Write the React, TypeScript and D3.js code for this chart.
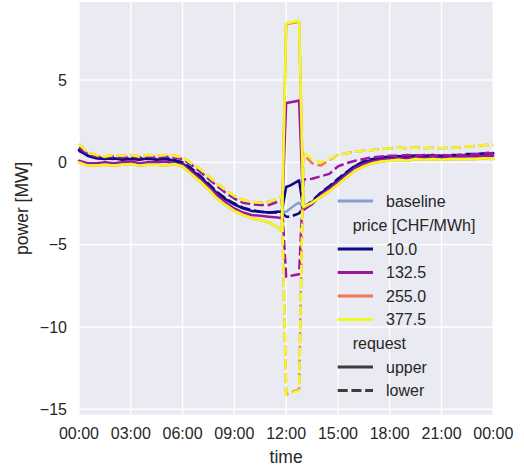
import React from "react";
import * as d3 from "d3";

const TIMES = [0, 0.5, 1, 1.5, 2, 2.5, 3, 3.5, 4, 4.5, 5, 5.5, 6, 6.5, 7, 7.5, 8, 8.5, 9, 9.5, 10, 10.5, 11, 11.5, 11.75, 12, 12.25, 12.5, 12.75, 13, 13.5, 14, 14.5, 15, 15.5, 16, 16.5, 17, 17.5, 18, 18.5, 19, 19.5, 20, 20.5, 21, 21.5, 22, 22.5, 23, 23.5, 24];

const BASELINE = [0.7, 0.4, 0.25, 0.2, 0.25, 0.2, 0.2, 0.2, 0.2, 0.2, 0.2, 0.15, -0.05, -0.4, -0.85, -1.35, -1.85, -2.25, -2.55, -2.8, -2.95, -3.0, -3.05, -3.0, -3.0, -3.0, -2.8, -2.6, -2.45, -2.75, -2.4, -1.9, -1.5, -1.05, -0.6, -0.2, 0.0, 0.15, 0.25, 0.3, 0.35, 0.35, 0.4, 0.35, 0.4, 0.4, 0.4, 0.4, 0.45, 0.45, 0.5, 0.55];

const P10_UPPER = [0.75, 0.4, 0.25, 0.2, 0.25, 0.15, 0.2, 0.15, 0.25, 0.15, 0.2, 0.1, -0.1, -0.45, -0.9, -1.35, -1.9, -2.25, -2.55, -2.8, -2.95, -3.0, -3.05, -3.0, -3.0, -1.5, -1.4, -1.25, -1.1, -2.85, -2.45, -1.9, -1.5, -1.1, -0.65, -0.25, 0.0, 0.15, 0.25, 0.3, 0.35, 0.3, 0.4, 0.35, 0.4, 0.35, 0.4, 0.4, 0.45, 0.45, 0.5, 0.55];
const P10_LOWER = [0.7, 0.45, 0.3, 0.25, 0.2, 0.25, 0.2, 0.25, 0.2, 0.2, 0.25, 0.15, 0.0, -0.35, -0.8, -1.3, -1.8, -2.2, -2.5, -2.75, -2.9, -3.0, -3.05, -3.05, -3.05, -3.3, -3.3, -3.2, -3.1, -2.75, -2.35, -1.85, -1.45, -1.0, -0.6, -0.2, 0.05, 0.2, 0.3, 0.35, 0.35, 0.4, 0.4, 0.4, 0.45, 0.4, 0.45, 0.45, 0.5, 0.5, 0.55, 0.6];

const P132_UPPER = [0.1, -0.05, -0.05, 0.0, -0.05, 0.0, 0.05, -0.05, 0.0, 0.0, 0.05, -0.05, -0.15, -0.55, -1.0, -1.5, -2.0, -2.45, -2.8, -3.05, -3.2, -3.25, -3.3, -3.35, -3.4, 3.6, 3.65, 3.7, 3.75, -2.9, -2.55, -2.0, -1.6, -1.2, -0.75, -0.35, -0.1, 0.05, 0.15, 0.2, 0.25, 0.2, 0.3, 0.25, 0.3, 0.25, 0.3, 0.3, 0.35, 0.35, 0.4, 0.4];
const P132_LOWER = [0.9, 0.5, 0.35, 0.3, 0.35, 0.3, 0.35, 0.3, 0.35, 0.3, 0.35, 0.3, 0.2, -0.15, -0.55, -1.0, -1.45, -1.85, -2.2, -2.45, -2.55, -2.6, -2.6, -2.4, -2.3, -6.95, -6.9, -6.85, -6.8, -1.05, -1.0, -0.85, -0.7, -0.25, -0.05, 0.1, 0.2, 0.3, 0.35, 0.4, 0.4, 0.45, 0.4, 0.45, 0.4, 0.45, 0.4, 0.45, 0.45, 0.5, 0.55, 0.55];

const P255_UPPER = [0.0, -0.2, -0.2, -0.15, -0.2, -0.15, -0.1, -0.2, -0.15, -0.15, -0.2, -0.1, -0.25, -0.7, -1.15, -1.65, -2.2, -2.6, -2.95, -3.2, -3.4, -3.5, -3.65, -3.95, -4.2, 8.4, 8.45, 8.5, 8.55, -2.75, -2.45, -2.1, -1.75, -1.35, -0.9, -0.5, -0.25, -0.05, 0.05, 0.1, 0.15, 0.1, 0.2, 0.15, 0.2, 0.15, 0.2, 0.2, 0.2, 0.2, 0.25, 0.2];
const P255_LOWER = [1.1, 0.6, 0.45, 0.35, 0.45, 0.4, 0.45, 0.35, 0.45, 0.4, 0.45, 0.4, 0.3, -0.05, -0.4, -0.85, -1.3, -1.7, -2.05, -2.3, -2.4, -2.45, -2.4, -2.2, -2.1, -14.1, -14.0, -13.9, -13.8, 0.5, -0.05, -0.2, 0.15, 0.45, 0.55, 0.65, 0.7, 0.75, 0.8, 0.85, 0.9, 0.85, 0.9, 0.85, 0.9, 0.85, 0.9, 0.9, 0.95, 1.0, 1.05, 1.05];

const P377_UPPER = [0.0, -0.2, -0.2, -0.15, -0.2, -0.15, -0.1, -0.2, -0.15, -0.15, -0.2, -0.1, -0.25, -0.7, -1.15, -1.65, -2.2, -2.6, -2.95, -3.2, -3.4, -3.5, -3.65, -3.95, -4.2, 8.45, 8.5, 8.55, 8.6, -2.7, -2.45, -2.1, -1.75, -1.35, -0.9, -0.5, -0.25, -0.05, 0.05, 0.1, 0.15, 0.1, 0.2, 0.15, 0.2, 0.15, 0.2, 0.2, 0.2, 0.2, 0.25, 0.2];
const P377_LOWER = [1.1, 0.6, 0.45, 0.35, 0.45, 0.4, 0.45, 0.35, 0.45, 0.4, 0.45, 0.4, 0.3, -0.05, -0.4, -0.85, -1.3, -1.7, -2.05, -2.3, -2.4, -2.45, -2.4, -2.2, -2.1, -14.15, -14.05, -13.95, -13.85, 0.6, 0.2, 0.0, 0.2, 0.45, 0.55, 0.65, 0.7, 0.75, 0.8, 0.85, 0.9, 0.85, 0.9, 0.85, 0.9, 0.85, 0.9, 0.9, 0.95, 1.0, 1.05, 1.05];

const PRICE_LABELS = ["10.0", "132.5", "255.0", "377.5"];
const PRICE_COLORS = ["#0d0887", "#9c179e", "#ed7953", "#f0f921"];
const REQUEST_LABELS = ["upper", "lower"];
const X_TICKS = [0, 3, 6, 9, 12, 15, 18, 21, 24];
const X_TICK_LABELS = ["00:00", "03:00", "06:00", "09:00", "12:00", "15:00", "18:00", "21:00", "00:00"];
const Y_TICKS = [5, 0, -5, -10, -15];

const SERIES = [
  { values: P10_UPPER, price: 0, req: 0 },
  { values: P10_LOWER, price: 0, req: 1 },
  { values: P132_UPPER, price: 1, req: 0 },
  { values: P132_LOWER, price: 1, req: 1 },
  { values: P255_UPPER, price: 2, req: 0 },
  { values: P255_LOWER, price: 2, req: 1 },
  { values: P377_UPPER, price: 3, req: 0 },
  { values: P377_LOWER, price: 3, req: 1 },
];

const W = 524;
const H = 468;
const L = 79;
const R = 493.3;
const T = 2;
const B = 414.5;
const FONT = "'Liberation Sans', Arial, sans-serif";
const TXT = "#262626";
const BASE_COLOR = "#83a0cc";
const LW = 2.5;
const DASH = "10 3.75";

export default function App() {
  const x = d3.scaleLinear().domain([0, 24]).range([L, R]);
  const y = d3.scaleLinear().domain([-15.32, 9.74]).range([B, T]);
  const line = d3
    .line<number>()
    .x((_, i) => x(TIMES[i]))
    .y((v) => y(v));

  const legX0 = 337.7;
  const legX1 = 373;
  const legText = 386;
  const legTitle = 352.7;
  const rowY = [201, 225, 249, 272.5, 296, 319.5, 343.5, 367, 390.5];

  return (
    <svg width={W} height={H} style={{ position: "absolute", left: 0, top: 0 }} fontFamily={FONT}>
      <rect x={0} y={0} width={W} height={H} fill="#ffffff" />
      <rect x={L} y={T} width={R - L} height={B - T} fill="#eaeaf2" />
      {X_TICKS.map((t) => (
        <line key={"gx" + t} x1={x(t)} x2={x(t)} y1={T} y2={B} stroke="#ffffff" strokeWidth={1.4} />
      ))}
      {Y_TICKS.map((t) => (
        <line key={"gy" + t} x1={L} x2={R} y1={y(t)} y2={y(t)} stroke="#ffffff" strokeWidth={1.4} />
      ))}
      <g>
        <path d={line(BASELINE) || ""} fill="none" stroke={BASE_COLOR} strokeWidth={LW} strokeLinejoin="round" strokeLinecap="round" />
        {SERIES.map((s, i) => (
          <path
            key={i}
            d={line(s.values) || ""}
            fill="none"
            stroke={PRICE_COLORS[s.price]}
            strokeWidth={LW}
            strokeLinejoin="round"
            strokeLinecap={s.req === 1 ? "butt" : "round"}
            strokeDasharray={s.req === 1 ? DASH : undefined}
          />
        ))}
      </g>
      {X_TICKS.map((t, i) => (
        <text key={"tx" + i} x={x(t)} y={439} textAnchor="middle" fontSize={16} fill={TXT}>
          {X_TICK_LABELS[i]}
        </text>
      ))}
      {Y_TICKS.map((t) => (
        <text key={"ty" + t} x={67} y={y(t) + 5.7} textAnchor="end" fontSize={16} fill={TXT}>
          {t < 0 ? "\u2212" + Math.abs(t) : String(t)}
        </text>
      ))}
      <text x={(L + R) / 2} y={463} textAnchor="middle" fontSize={17.5} fill={TXT}>
        time
      </text>
      <text transform={`translate(28,${(T + B) / 2}) rotate(-90)`} textAnchor="middle" fontSize={17.5} fill={TXT}>
        power [MW]
      </text>
      <g fontSize={16} fill={TXT}>
        <line x1={legX0} x2={legX1} y1={rowY[0]} y2={rowY[0]} stroke={BASE_COLOR} strokeWidth={LW + 0.3} />
        <text x={legText} y={rowY[0] + 5.7}>baseline</text>
        <text x={legTitle} y={rowY[1] + 5.7}>price [CHF/MWh]</text>
        {PRICE_LABELS.map((lab, i) => (
          <g key={lab}>
            <line x1={legX0} x2={legX1} y1={rowY[2 + i]} y2={rowY[2 + i]} stroke={PRICE_COLORS[i]} strokeWidth={LW + 0.3} />
            <text x={legText} y={rowY[2 + i] + 5.7}>{lab}</text>
          </g>
        ))}
        <text x={legTitle} y={rowY[6] + 5.7}>request</text>
        {REQUEST_LABELS.map((lab, i) => (
          <g key={lab}>
            <line
              x1={legX0}
              x2={legX1}
              y1={rowY[7 + i]}
              y2={rowY[7 + i]}
              stroke="#3d3d3d"
              strokeWidth={LW + 0.3}
              strokeDasharray={i === 1 ? DASH : undefined}
            />
            <text x={legText} y={rowY[7 + i] + 5.7}>{lab}</text>
          </g>
        ))}
      </g>
    </svg>
  );
}
